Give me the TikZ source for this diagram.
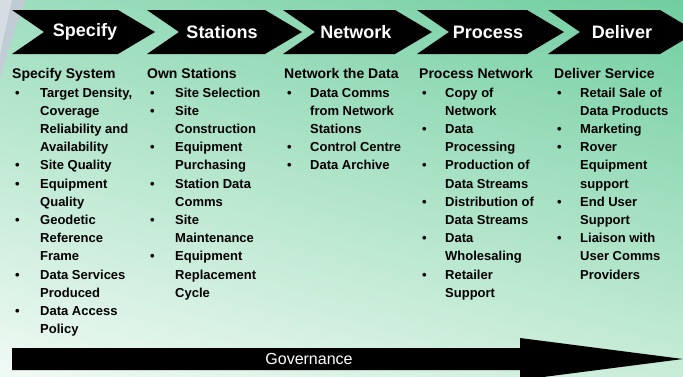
\documentclass[tikz,border=0pt]{standalone}
\usepackage{fontspec}
\setmainfont{Liberation Sans}
\usepackage{array}
\usetikzlibrary{shadings}
\definecolor{bgUL}{RGB}{158,222,190}
\definecolor{bgUR}{RGB}{112,206,160}
\definecolor{bgLL}{RGB}{240,250,244}
\definecolor{bgLR}{RGB}{200,236,216}
\definecolor{swoosh}{RGB}{200,200,218}
\tikzset{
  chevron/.style={fill=black, draw=none},
  chevtext/.style={text=white, font=\fontsize{18}{20}\selectfont\bfseries, inner sep=0pt},
  coltext/.style={anchor=north west, inner sep=0pt, text=black, font=\fontsize{13}{18.2}\selectfont\bfseries},
  govarrow/.style={fill=black, draw=none},
  govtext/.style={text=white, font=\fontsize{16}{18}\selectfont, inner sep=0pt}
}
\newcommand{\hd}[1]{\multicolumn{2}{@{}l@{}}{\fontsize{14}{18.2}\selectfont #1}}
\newcommand{\bu}{\hspace{3pt}\textbullet}
\begin{document}
\begin{tikzpicture}[x=1pt,y=-1pt]
\useasboundingbox (0,0) rectangle (683,376);
\begin{scope}
\clip (0,0) rectangle (683,376);
\shade[upper left=bgUL, upper right=bgUR, lower left=bgLL, lower right=bgLR] (0,0) rectangle (683,376);
\fill[swoosh, opacity=0.8] (0,0) -- (26,0) .. controls (16,25) and (8,50) .. (0,80) -- cycle;
\fill[white, opacity=0.35] (0,0) -- (12,0) .. controls (7,20) and (3,40) .. (0,55) -- cycle;
% chevrons
\foreach \L/\R in {12/118, 147/265, 283/395, 417/527, 548/660}{
  \fill[chevron] (\L,10) -- (\R,10) -- ({\R+37},32) -- (\R,54) -- (\L,54) -- ({\L+32},32) -- cycle;
}
\node[chevtext] (specify) at (85,32) {Specify};
\node[chevtext] (stations) at (222,32) {Stations};
\node[chevtext] (network) at (356,32) {Network};
\node[chevtext] (process) at (488,32) {Process};
\node[chevtext] (deliver) at (622,32) {Deliver};
% columns
\node[coltext] (col1) at (12,66) {\begin{tabular}{@{}p{28pt}@{}l@{}}
\hd{Specify System}\\
\bu & Target Density,\\
 & Coverage\\
 & Reliability and\\
 & Availability\\
\bu & Site Quality\\
\bu & Equipment\\
 & Quality\\
\bu & Geodetic\\
 & Reference\\
 & Frame\\
\bu & Data Services\\
 & Produced\\
\bu & Data Access\\
 & Policy
\end{tabular}};
\node[coltext] (col2) at (147,66) {\begin{tabular}{@{}p{28pt}@{}l@{}}
\hd{Own Stations}\\
\bu & Site Selection\\
\bu & Site\\
 & Construction\\
\bu & Equipment\\
 & Purchasing\\
\bu & Station Data\\
 & Comms\\
\bu & Site\\
 & Maintenance\\
\bu & Equipment\\
 & Replacement\\
 & Cycle
\end{tabular}};
\node[coltext] (col3) at (284,66) {\begin{tabular}{@{}p{26pt}@{}l@{}}
\hd{Network the Data}\\
\bu & Data Comms\\
 & from Network\\
 & Stations\\
\bu & Control Centre\\
\bu & Data Archive
\end{tabular}};
\node[coltext] (col4) at (419,66) {\begin{tabular}{@{}p{26pt}@{}l@{}}
\hd{Process Network}\\
\bu & Copy of\\
 & Network\\
\bu & Data\\
 & Processing\\
\bu & Production of\\
 & Data Streams\\
\bu & Distribution of\\
 & Data Streams\\
\bu & Data\\
 & Wholesaling\\
\bu & Retailer\\
 & Support
\end{tabular}};
\node[coltext] (col5) at (554,66) {\begin{tabular}{@{}p{26pt}@{}l@{}}
\hd{Deliver Service}\\
\bu & Retail Sale of\\
 & Data Products\\
\bu & Marketing\\
\bu & Rover\\
 & Equipment\\
 & support\\
\bu & End User\\
 & Support\\
\bu & Liaison with\\
 & User Comms\\
 & Providers
\end{tabular}};
% governance arrow
\fill[govarrow] (12,348) -- (520,348) -- (520,338) -- (683,359) -- (520,380) -- (520,370) -- (12,370) -- cycle;
\node[govtext] (gov) at (309,359) {Governance};
\end{scope}
\end{tikzpicture}
\end{document}
